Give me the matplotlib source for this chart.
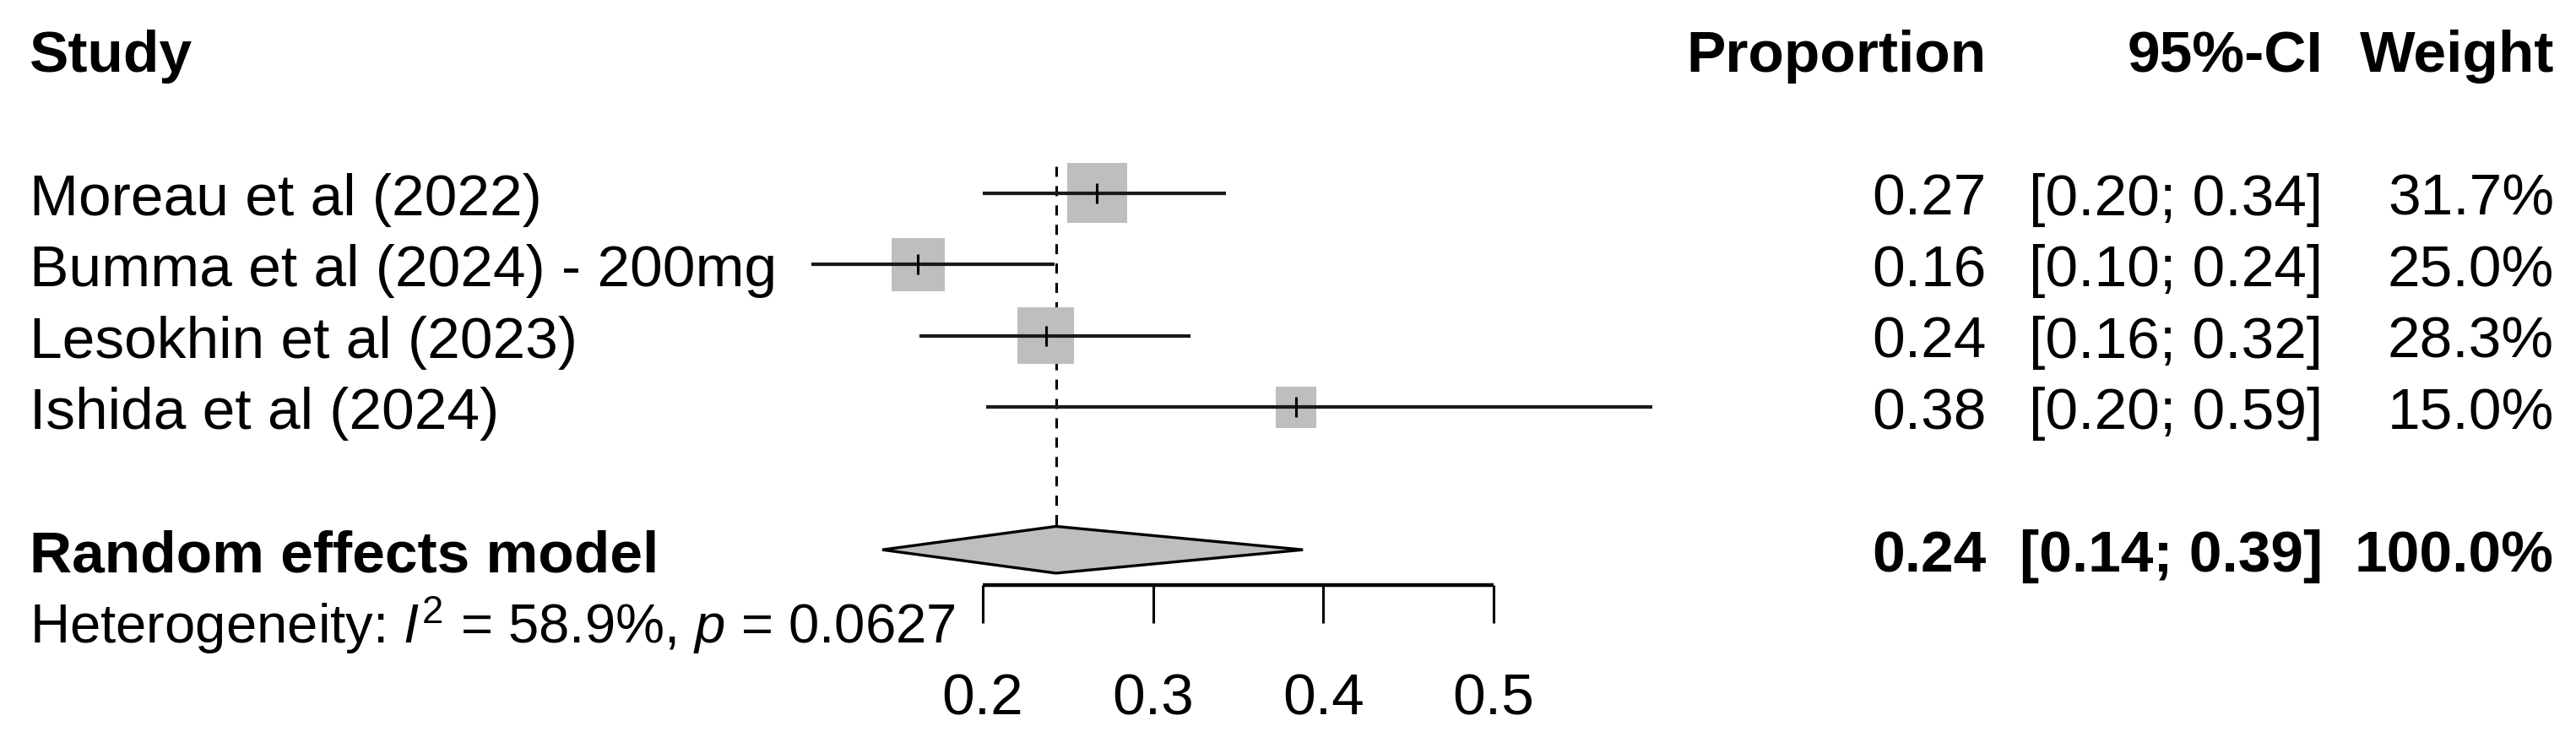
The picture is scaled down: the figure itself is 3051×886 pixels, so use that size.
"""Forest plot of pooled proportion (random effects model)."""

import matplotlib
matplotlib.use("Agg")
import matplotlib.pyplot as plt

plt.rcParams["font.family"] = ["Liberation Sans", "DejaVu Sans"]
plt.rcParams["mathtext.fontset"] = "custom"
plt.rcParams["mathtext.rm"] = "Liberation Sans"
plt.rcParams["mathtext.it"] = "Liberation Sans:italic"
plt.rcParams["lines.scale_dashes"] = False

# study data
studies = ["Moreau et al (2022)", "Bumma et al (2024) - 200mg",
           "Lesokhin et al (2023)", "Ishida et al (2024)"]
estimates = [0.267, 0.162, 0.237, 0.384]
lower = [0.200, 0.0993, 0.163, 0.202]
upper = [0.343, 0.242, 0.322, 0.593]
weights = [31.7, 25.0, 28.3, 15.0]

pooled_label = "Random effects model"
pooled_est = 0.243
pooled_lower = 0.141
pooled_upper = 0.388
pooled_weight = 100.0

het_text = r"Heterogeneity: $I^2$ = 58.9%, $p$ = 0.0627"
ticks = [0.2, 0.3, 0.4, 0.5]
headers = ["Study", "Proportion", "95%-CI", "Weight"]

W, H, DPI = 3051, 886, 100
FS = 50
COL_STUDY, COL_PROP, COL_CI, COL_W = 35 / W, 2353 / W, 2751 / W, 3025 / W
BASE = 0.31  # baseline offset (rows) below row centre
GREY = "#bebebe"


def main():
    fig = plt.figure(figsize=(W / DPI, H / DPI), dpi=DPI)
    ax = fig.add_axes([0, 0, 1, 1])
    ax.set_xlim(-0.37718, 1.13569)
    ax.set_ylim(8.7787, -1.7065)
    ax.axis("off")
    tr = ax.get_yaxis_transform()  # x: axes fraction, y: rows

    rows = list(range(1, len(studies) + 1))
    pooled_row = 6
    het_row = 7
    axis_row = 6.49
    tick_row = 8

    # headers
    ax.text(COL_STUDY, -0.70, headers[0], transform=tr, ha="left",
            va="baseline", fontsize=FS, fontweight="bold")
    for col, txt in zip([COL_PROP, COL_CI, COL_W], headers[1:]):
        ax.text(col, -0.70, txt, transform=tr, ha="right", va="baseline",
                fontsize=FS, fontweight="bold")

    # reference line at pooled estimate
    ax.vlines(pooled_est, 0.62, pooled_row - 0.328, colors="black",
              linewidth=2.2, linestyles=(0, (8.6, 7.9)), zorder=1)

    # study rows
    ax.hlines(rows, lower, upper, colors="#1a1a1a", linewidth=3.0, zorder=3)
    ax.scatter(estimates, rows, s=[w * 82.4 for w in weights], marker="s",
               color=GREY, linewidths=0, zorder=2)
    ax.scatter(estimates, rows, s=280, marker="|", color="black",
               linewidths=2.2, zorder=4)

    for r, name, e, lo, hi, w in zip(rows, studies, estimates, lower, upper, weights):
        y = r + BASE
        ax.text(COL_STUDY, y, name, transform=tr, ha="left", va="baseline", fontsize=FS)
        ax.text(COL_PROP, y, f"{e:.2f}", transform=tr, ha="right", va="baseline", fontsize=FS)
        ax.text(COL_CI, y, f"[{lo:.2f}; {hi:.2f}]", transform=tr, ha="right",
                va="baseline", fontsize=FS)
        ax.text(COL_W, y, f"{w:.1f}%", transform=tr, ha="right", va="baseline", fontsize=FS)

    # pooled diamond
    hh = 0.328
    ax.fill([pooled_lower, pooled_est, pooled_upper, pooled_est],
            [pooled_row, pooled_row - hh, pooled_row, pooled_row + hh],
            facecolor=GREY, edgecolor="black", linewidth=2.4, zorder=3)
    y = pooled_row + BASE
    ax.text(COL_STUDY, y, pooled_label, transform=tr, ha="left", va="baseline",
            fontsize=FS, fontweight="bold")
    ax.text(COL_PROP, y, f"{pooled_est:.2f}", transform=tr, ha="right",
            va="baseline", fontsize=FS, fontweight="bold")
    ax.text(COL_CI, y, f"[{pooled_lower:.2f}; {pooled_upper:.2f}]", transform=tr,
            ha="right", va="baseline", fontsize=FS, fontweight="bold")
    ax.text(COL_W, y, f"{pooled_weight:.1f}%", transform=tr, ha="right",
            va="baseline", fontsize=FS, fontweight="bold")

    ax.text(COL_STUDY, het_row + BASE, het_text, transform=tr, ha="left",
            va="baseline", fontsize=47)

    # x axis drawn R-style
    ax.hlines(axis_row, ticks[0], ticks[-1], colors="black", linewidth=3.2)
    ax.vlines(ticks, axis_row, axis_row + 0.54, colors="black", linewidth=2.2)
    for t in ticks:
        ax.text(t, tick_row + BASE, f"{t:.1f}", ha="center", va="baseline", fontsize=FS)

    fig.savefig("out.png", dpi=DPI)


if __name__ == "__main__":
    main()
